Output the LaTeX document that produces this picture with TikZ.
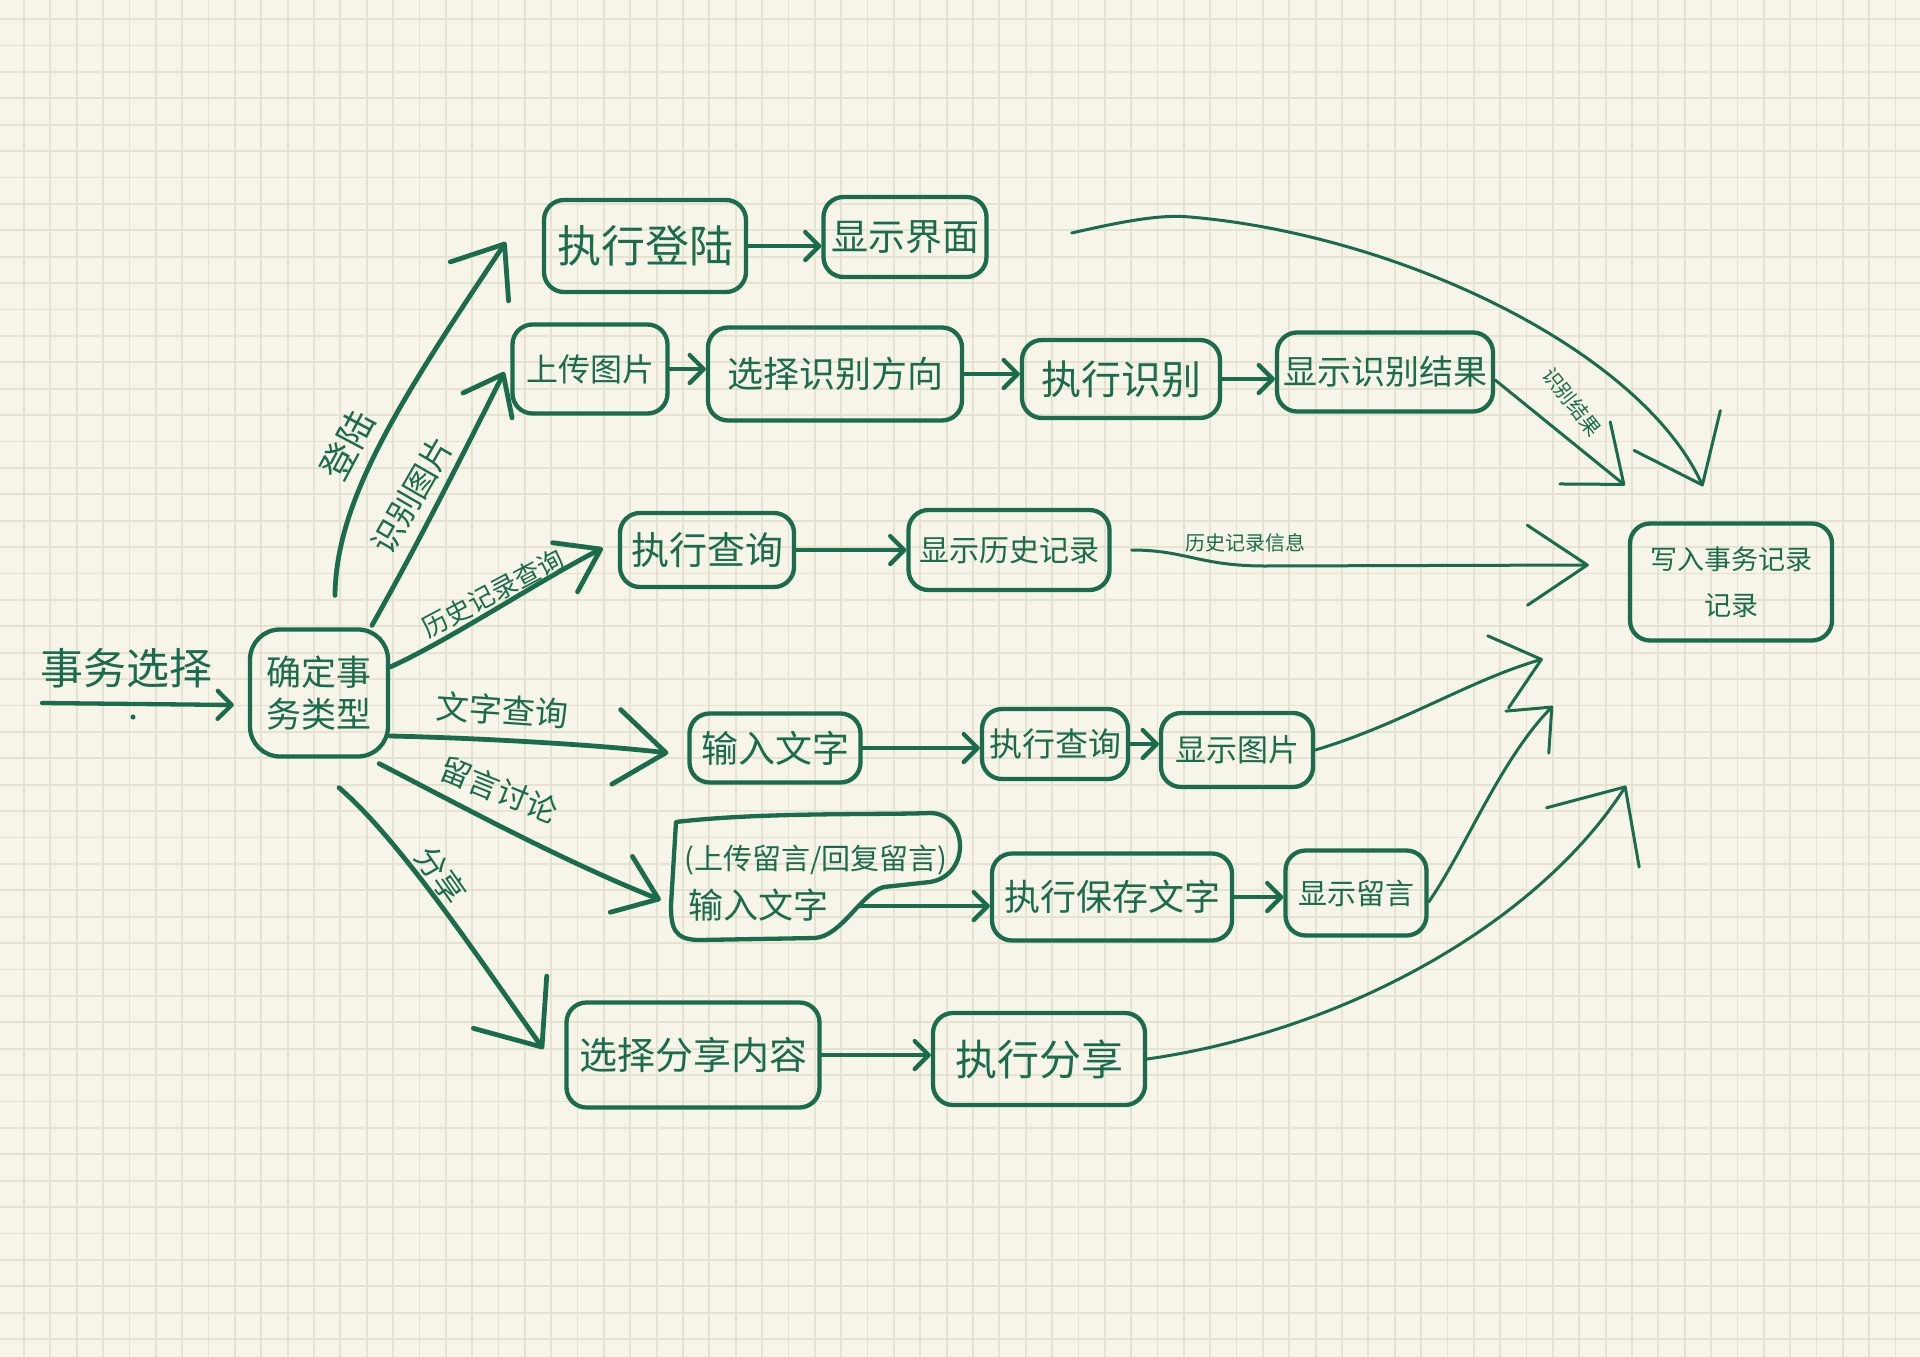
\documentclass[tikz,border=0pt]{standalone}
\usepackage{fontspec}
\setmainfont{Noto Sans CJK SC}
\usetikzlibrary{arrows.meta,calc}
\definecolor{paper}{RGB}{247,244,233}
\definecolor{gridc}{RGB}{229,225,211}
\definecolor{inkc}{RGB}{26,108,74}
\newcommand\hfs[1]{\fontsize{#1}{#1}\selectfont}
\tikzset{
  ink/.style={draw=inkc, line width=4.3pt, line cap=round, line join=round},
  box/.style={ink, rounded corners=20pt, text=inkc, inner sep=0pt, align=center},
  lab/.style={text=inkc, inner sep=0pt},
  fsz/.style={font=\hfs{#1}},
  arr/.style={ink, -{Straight Barb[length=14pt,width=28pt,round]}},
  thinline/.style={line width=3pt},
  head/.style 2 args={-{Straight Barb[length=#1,width=#2,round]}},
}
\begin{document}
\begin{tikzpicture}[x=1pt,y=-1pt]
\fill[paper] (0,0) rectangle (1920,1357);
\useasboundingbox (0,0) rectangle (1920,1357);
\foreach \i in {0,...,71} \draw[gridc,line width=1.8pt] ({24+26.36*\i},0) -- ({24+26.36*\i},1357);
\foreach \j in {0,...,51} \draw[gridc,line width=1.8pt] (0,{19+26.4*\j}) -- (1920,{19+26.4*\j});

% start
\node[lab, fsz=43] (t0) at (126,668) {事务选择};
\coordinate (start) at (42,703);
\fill[inkc] (133,717) circle (2.5pt);
\node[box, rounded corners=30pt, font=\fontsize{35}{42}\selectfont, minimum width=138pt, minimum height=127pt] (type) at (319,693) {确定事\\务类型};

% row 1
\node[box, fsz=44, minimum width=202pt, minimum height=92pt] (login) at (645,246) {执行登陆};
\node[box, fsz=37, minimum width=163pt, minimum height=80pt] (showui) at (905,237) {显示界面};

% row 2
\node[box, fsz=32, minimum width=155pt, minimum height=89pt] (upload) at (590,369) {上传图片};
\node[box, fsz=36, minimum width=254pt, minimum height=93pt] (choose) at (835,374) {选择识别方向};
\node[box, fsz=40, minimum width=198pt, minimum height=78pt] (execrec) at (1121,379) {执行识别};
\node[box, fsz=34, minimum width=216pt, minimum height=79pt] (showrec) at (1385,372) {显示识别结果};

% row 3
\node[box, fsz=38, minimum width=174pt, minimum height=74pt] (query) at (707,550) {执行查询};
\node[box, fsz=30, minimum width=201pt, minimum height=80pt] (showhist) at (1009,550) {显示历史记录};

% write box
\node[box, font=\fontsize{27}{46}\selectfont, minimum width=202pt, minimum height=117pt] (write) at (1731,582) {写入事务记录\\记录};

% row 4
\node[box, fsz=37, minimum width=171pt, minimum height=69pt] (inputtext) at (775,748) {输入文字};
\node[box, fsz=33, minimum width=146pt, minimum height=70pt] (execq) at (1055,744) {执行查询};
\node[box, fsz=31, minimum width=152pt, minimum height=74pt] (showpic) at (1237,750) {显示图片};

% row 5
\draw[ink] (676,822) .. controls (760,812) and (880,815) .. (930,813)
  .. controls (968,813) and (972,875) .. (930,882) -- (884,887)
  .. controls (862,892) and (842,936) .. (815,938) -- (700,940)
  .. controls (674,940) and (671,928) .. (671,905) -- cycle;
\node[minimum width=290pt, minimum height=122pt, inner sep=0pt] (msg) at (816,879) {};
\node[lab, fsz=29] (msgone) at (816,860) {(上传留言/回复留言)};
\node[lab, fsz=35] (msgtwo) at (758,905) {输入文字};
\coordinate (msgout) at (859,906);
\node[box, fsz=36, minimum width=240pt, minimum height=87pt] (save) at (1112,897) {执行保存文字};
\node[box, fsz=29, minimum width=141pt, minimum height=85pt] (showmsg) at (1356,893) {显示留言};

% row 6
\node[box, fsz=38, minimum width=253pt, minimum height=105pt] (chooseshare) at (693,1055) {选择分享内容};
\node[box, fsz=42, minimum width=212pt, minimum height=92pt] (execshare) at (1039,1059) {执行分享};

% labels
\node[lab, fsz=36, rotate=62] (llogin) at (347,445) {登陆};
\node[lab, fsz=32, rotate=60] (lrec) at (412,495) {识别图片};
\node[lab, fsz=26, rotate=28] (lhist) at (493,593) {历史记录查询};
\node[lab, fsz=33, rotate=-4] (ltext) at (502,710) {文字查询};
\node[lab, fsz=31, rotate=-22] (lmsg) at (499,790) {留言讨论};
\node[lab, fsz=31, rotate=-55] (lshare) at (441,875) {分享};
\node[lab, fsz=20, rotate=-52] (lrecres) at (1572,402) {识别结果};
\node[lab, fsz=20] (lhistinfo) at (1245,543) {历史记录信息};

% connectors
\draw[arr] (start) -- ([xshift=-14pt,yshift=-12pt]type.west);
\draw[arr] (login.east) -- (login.east -| showui.west);
\draw[arr] (upload.east) -- (upload.east -| choose.west);
\draw[arr] (choose.east) -- (choose.east -| execrec.west);
\draw[arr] (execrec.east) -- (execrec.east -| showrec.west);
\draw[arr] (query.east) -- (query.east -| showhist.west);
\draw[arr] (inputtext.east) -- (inputtext.east -| execq.west);
\draw[arr] (execq.east) -- (execq.east -| showpic.west);
\draw[arr] (msgout) -- (msgout -| save.west);
\draw[arr] (save.east) -- (save.east -| showmsg.west);
\draw[arr] (chooseshare.east) -- (chooseshare.east -| execshare.west);

% branches
\draw[ink, line width=4.8pt, head={45pt}{70pt}] ([xshift=16pt,yshift=32pt]type.north) .. controls (336,500) and (400,400) .. ([xshift=-36pt,yshift=4pt]login.west);
\draw[ink, line width=4.8pt, head={35pt}{55pt}] ([xshift=53pt,yshift=2pt]type.north) .. controls (420,540) and (460,460) .. ([xshift=-6pt,yshift=-3pt]upload.west);
\draw[ink, line width=4.8pt, head={40pt}{55pt}] ([yshift=26pt]type.east) .. controls (450,640) and (540,580) .. ([xshift=-15pt,yshift=2pt]query.west);
\draw[ink, line width=4.8pt, head={50pt}{75pt}] ([yshift=-43pt]type.east) .. controls (480,738) and (600,745) .. ([xshift=-19pt,yshift=-5pt]inputtext.west);
\draw[ink, line width=4.8pt, head={40pt}{60pt}] ([xshift=-11pt,yshift=-5pt]type.south east) .. controls (450,800) and (560,860) .. ([xshift=-10pt,yshift=-21pt]msg.west);
\draw[ink, line width=4.8pt, head={55pt}{90pt}] ([xshift=20pt,yshift=-29pt]type.south) .. controls (400,840) and (480,960) .. ([xshift=-21pt,yshift=6pt]chooseshare.west);

% into write box
\draw[ink, thinline, head={60pt}{95pt}] ([xshift=83pt,yshift=4pt]showui.east) .. controls (1120,222) and (1160,214) .. (1190,217) .. controls (1400,235) and (1640,350) .. ([xshift=-28pt,yshift=35pt]write.north);
\draw[ink, thinline, head={50pt}{80pt}] ([yshift=-8pt]showrec.east) -- ([xshift=-106pt,yshift=36pt]write.north);
\draw[ink, thinline, head={60pt}{80pt}] ([xshift=20pt]showhist.east) .. controls (1185,550) and (1200,566) .. (1265,566) -- ([xshift=-39pt,yshift=17pt]write.west);
\draw[ink, thinline, head={45pt}{75pt}] (showpic.east) .. controls (1400,725) and (1470,680) .. ([xshift=-85pt,yshift=-77pt]write.west);
\draw[ink, thinline, head={35pt}{60pt}] ([yshift=-9pt]showmsg.east) .. controls (1465,850) and (1500,760) .. ([xshift=-75pt,yshift=-124pt]write.west);
\draw[ink, thinline, head={60pt}{110pt}] (execshare.east) .. controls (1350,1030) and (1540,920) .. ([xshift=-105pt,yshift=-143pt]write.south);
\end{tikzpicture}
\end{document}
